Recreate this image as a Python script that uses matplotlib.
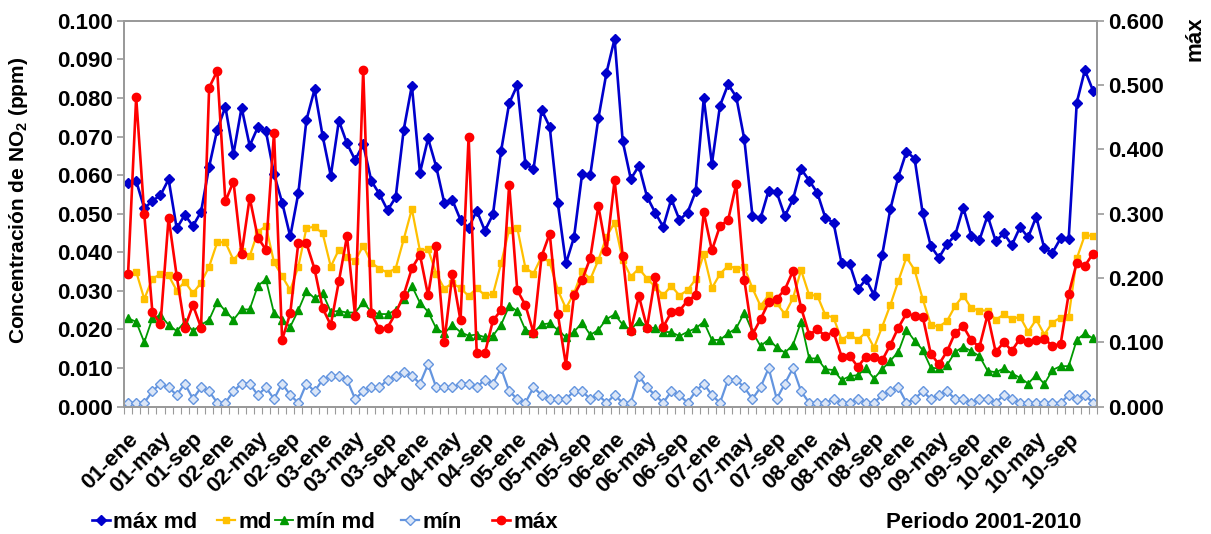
# ----------------------------------------------------------------------------------------------------------------------
# NO2 monthly concentration, 2001-2010 (max / mean / min series)
# ----------------------------------------------------------------------------------------------------------------------
import matplotlib
matplotlib.use("Agg")
import matplotlib.pyplot as plt
from matplotlib.ticker import FormatStrFormatter, FixedLocator
from matplotlib.transforms import ScaledTranslation
import numpy as np
# ----------------------------------------------------------------------------------------------------------------------

# Month labels shown on the x axis (every 4th month)
tick_labels = ["01-ene", "01-may", "01-sep", "02-ene", "02-may", "02-sep", "03-ene", "03-may", "03-sep",
               "04-ene", "04-may", "04-sep", "05-ene", "05-may", "05-sep", "06-ene", "06-may", "06-sep",
               "07-ene", "07-may", "07-sep", "08-ene", "08-may", "08-sep", "09-ene", "09-may", "09-sep",
               "10-ene", "10-may", "10-sep"]

# Monthly max of daily means (ppm)
max_md = [0.0579, 0.0585, 0.0514, 0.0533, 0.0548, 0.0589, 0.0462, 0.0497, 0.0468, 0.0505, 0.0622, 0.0718,
          0.0777, 0.0655, 0.0775, 0.0676, 0.0724, 0.0714, 0.0603, 0.0529, 0.0441, 0.0553, 0.0743, 0.0822,
          0.0701, 0.0598, 0.0741, 0.0682, 0.0639, 0.0680, 0.0585, 0.0551, 0.0509, 0.0542, 0.0718, 0.0832,
          0.0606, 0.0695, 0.0622, 0.0528, 0.0535, 0.0484, 0.0463, 0.0508, 0.0456, 0.0498, 0.0662, 0.0786,
          0.0833, 0.0629, 0.0615, 0.0769, 0.0725, 0.0527, 0.0371, 0.0439, 0.0604, 0.0600, 0.0747, 0.0865,
          0.0953, 0.0688, 0.0590, 0.0624, 0.0544, 0.0503, 0.0466, 0.0538, 0.0484, 0.0503, 0.0558, 0.0799,
          0.0629, 0.0780, 0.0835, 0.0803, 0.0693, 0.0495, 0.0488, 0.0560, 0.0555, 0.0494, 0.0537, 0.0616,
          0.0586, 0.0554, 0.0489, 0.0477, 0.0371, 0.0369, 0.0304, 0.0330, 0.0289, 0.0393, 0.0511, 0.0596,
          0.0661, 0.0643, 0.0501, 0.0416, 0.0386, 0.0421, 0.0444, 0.0516, 0.0442, 0.0432, 0.0495, 0.0429,
          0.0449, 0.0419, 0.0465, 0.0439, 0.0492, 0.0410, 0.0399, 0.0436, 0.0434, 0.0788, 0.0872, 0.0819]

# Monthly mean (ppm)
md = [0.0343, 0.0350, 0.0279, 0.0332, 0.0343, 0.0340, 0.0301, 0.0324, 0.0294, 0.0321, 0.0363, 0.0426,
      0.0426, 0.0380, 0.0404, 0.0390, 0.0453, 0.0468, 0.0374, 0.0338, 0.0302, 0.0363, 0.0463, 0.0466,
      0.0449, 0.0363, 0.0407, 0.0387, 0.0378, 0.0417, 0.0373, 0.0358, 0.0347, 0.0358, 0.0434, 0.0512,
      0.0404, 0.0408, 0.0345, 0.0306, 0.0320, 0.0307, 0.0287, 0.0307, 0.0289, 0.0291, 0.0371, 0.0459,
      0.0463, 0.0360, 0.0345, 0.0389, 0.0374, 0.0302, 0.0255, 0.0294, 0.0352, 0.0330, 0.0380, 0.0440,
      0.0477, 0.0380, 0.0337, 0.0358, 0.0332, 0.0311, 0.0289, 0.0313, 0.0288, 0.0302, 0.0330, 0.0395,
      0.0307, 0.0344, 0.0365, 0.0358, 0.0361, 0.0307, 0.0261, 0.0289, 0.0268, 0.0240, 0.0281, 0.0354,
      0.0289, 0.0288, 0.0237, 0.0231, 0.0173, 0.0187, 0.0173, 0.0193, 0.0153, 0.0207, 0.0263, 0.0326,
      0.0387, 0.0354, 0.0279, 0.0212, 0.0207, 0.0222, 0.0261, 0.0288, 0.0255, 0.0249, 0.0249, 0.0225,
      0.0239, 0.0227, 0.0233, 0.0194, 0.0226, 0.0187, 0.0218, 0.0231, 0.0233, 0.0384, 0.0445, 0.0442]

# Monthly min of daily means (ppm)
min_md = [0.0229, 0.0220, 0.0167, 0.0229, 0.0237, 0.0212, 0.0196, 0.0220, 0.0196, 0.0212, 0.0225, 0.0272,
          0.0248, 0.0225, 0.0252, 0.0252, 0.0313, 0.0330, 0.0242, 0.0225, 0.0207, 0.0250, 0.0300, 0.0281,
          0.0294, 0.0246, 0.0248, 0.0244, 0.0244, 0.0270, 0.0246, 0.0240, 0.0240, 0.0250, 0.0278, 0.0313,
          0.0269, 0.0246, 0.0203, 0.0190, 0.0212, 0.0193, 0.0184, 0.0187, 0.0180, 0.0184, 0.0212, 0.0261,
          0.0248, 0.0199, 0.0192, 0.0213, 0.0216, 0.0199, 0.0180, 0.0194, 0.0218, 0.0186, 0.0199, 0.0227,
          0.0239, 0.0213, 0.0199, 0.0223, 0.0207, 0.0203, 0.0194, 0.0193, 0.0183, 0.0194, 0.0203, 0.0220,
          0.0173, 0.0173, 0.0190, 0.0203, 0.0244, 0.0194, 0.0157, 0.0174, 0.0154, 0.0140, 0.0160, 0.0220,
          0.0125, 0.0125, 0.0097, 0.0095, 0.0069, 0.0079, 0.0082, 0.0099, 0.0073, 0.0097, 0.0119, 0.0142,
          0.0199, 0.0171, 0.0147, 0.0101, 0.0099, 0.0108, 0.0142, 0.0155, 0.0144, 0.0131, 0.0093, 0.0089,
          0.0099, 0.0086, 0.0075, 0.0060, 0.0082, 0.0059, 0.0095, 0.0105, 0.0105, 0.0173, 0.0190, 0.0177]

# Monthly absolute min (ppm)
min_abs = [0.001, 0.001, 0.001, 0.004, 0.006, 0.005, 0.003, 0.006, 0.002, 0.005, 0.004, 0.001,
           0.001, 0.004, 0.006, 0.006, 0.003, 0.005, 0.002, 0.006, 0.003, 0.001, 0.006, 0.004,
           0.007, 0.008, 0.008, 0.007, 0.002, 0.004, 0.005, 0.005, 0.007, 0.008, 0.009, 0.008,
           0.006, 0.011, 0.005, 0.005, 0.005, 0.006, 0.006, 0.005, 0.007, 0.006, 0.010, 0.004,
           0.002, 0.001, 0.005, 0.003, 0.002, 0.002, 0.002, 0.004, 0.004, 0.002, 0.003, 0.001,
           0.003, 0.001, 0.001, 0.008, 0.005, 0.003, 0.001, 0.004, 0.003, 0.001, 0.004, 0.006,
           0.003, 0.001, 0.007, 0.007, 0.005, 0.002, 0.005, 0.010, 0.002, 0.006, 0.010, 0.004,
           0.001, 0.001, 0.001, 0.002, 0.001, 0.001, 0.002, 0.001, 0.001, 0.003, 0.004, 0.005,
           0.001, 0.002, 0.004, 0.002, 0.003, 0.004, 0.002, 0.002, 0.001, 0.002, 0.002, 0.001,
           0.003, 0.002, 0.001, 0.001, 0.001, 0.001, 0.001, 0.001, 0.003, 0.002, 0.003, 0.001]

# Monthly absolute max (ppm) - secondary axis
max_abs = [0.206, 0.481, 0.299, 0.147, 0.128, 0.294, 0.203, 0.123, 0.158, 0.123, 0.496, 0.522,
           0.319, 0.350, 0.237, 0.325, 0.263, 0.244, 0.426, 0.104, 0.145, 0.255, 0.254, 0.214,
           0.153, 0.127, 0.195, 0.265, 0.141, 0.524, 0.145, 0.120, 0.123, 0.145, 0.174, 0.215,
           0.236, 0.173, 0.250, 0.101, 0.206, 0.134, 0.420, 0.083, 0.083, 0.134, 0.150, 0.345,
           0.181, 0.158, 0.115, 0.234, 0.269, 0.144, 0.065, 0.173, 0.197, 0.231, 0.312, 0.242,
           0.352, 0.235, 0.118, 0.172, 0.123, 0.201, 0.124, 0.147, 0.149, 0.165, 0.173, 0.302,
           0.243, 0.281, 0.290, 0.346, 0.197, 0.112, 0.136, 0.162, 0.168, 0.182, 0.211, 0.154,
           0.112, 0.120, 0.110, 0.116, 0.078, 0.079, 0.062, 0.078, 0.077, 0.072, 0.096, 0.123,
           0.145, 0.141, 0.140, 0.082, 0.066, 0.086, 0.115, 0.125, 0.103, 0.093, 0.143, 0.085,
           0.100, 0.087, 0.106, 0.101, 0.103, 0.105, 0.095, 0.097, 0.175, 0.224, 0.219, 0.238]

# ----------------------------------------------------------------------------------------------------------------------
AXIS_GRAY = "#9a9a9a"
FS = 16
LEGEND_Y = 0.022


def style_axis(ax):
    for side in ["left", "right", "top", "bottom"]:
        ax.spines[side].set_color(AXIS_GRAY)
        ax.spines[side].set_linewidth(1.3)
    ax.tick_params(axis="y", which="major", length=5, width=1.2, color=AXIS_GRAY, labelsize=FS, pad=3)


def add_legend(fig, handle, x0):
    # One entry per legend so each one can sit where Excel put it
    fig.legend(handles=[handle], loc="center left", bbox_to_anchor=(x0, LEGEND_Y), frameon=False,
               handlelength=0.8, handletextpad=0.15, borderpad=0, borderaxespad=0,
               prop={"size": FS, "weight": "bold"})


def plot_data():

    plt.rcParams["font.family"] = ["Liberation Sans", "DejaVu Sans"]
    plt.rcParams["font.weight"] = "bold"
    plt.rcParams["mathtext.fontset"] = "custom"
    plt.rcParams["mathtext.rm"] = "Liberation Sans:bold"
    plt.rcParams["mathtext.bf"] = "Liberation Sans:bold"

    fig = plt.figure(figsize=(12.11, 5.34), dpi=100)
    ax = fig.add_axes([0.1024, 0.2384, 0.8035, 0.7228])
    x = np.arange(len(max_md))

    # [1.] Primary axis series
    l1, = ax.plot(x, max_md, color="#0000CC", lw=1.9, marker="D", ms=5, mec="#0000CC", mfc="#0000CC",
                  label="máx md", zorder=5)
    l2, = ax.plot(x, md, color="#FFC000", lw=1.6, marker="s", ms=5, mec="#FFC000", mfc="#FFC000",
                  label="md", zorder=4)
    l3, = ax.plot(x, min_md, color="#009900", lw=1.3, marker="^", ms=6, mec="#009900", mfc="#009900",
                  label="mín md", zorder=3)
    l4, = ax.plot(x, min_abs, color="#6495DF", lw=1.6, marker="D", ms=5, mec="#6495DF", mfc="#dbe6f7",
                  label="mín", zorder=2)

    ax.set_xlim(-0.5, len(x) - 0.5)
    ax.set_ylim(0, 0.1)
    ax.set_yticks(np.arange(0, 0.1001, 0.01))
    ax.yaxis.set_major_formatter(FormatStrFormatter("%.3f"))
    style_axis(ax)

    # [2.] Category axis: label every 4th month, small tick on every month boundary
    ax.set_xticks(x[::4])
    ax.set_xticklabels(tick_labels, rotation=45, ha="right", va="center", rotation_mode="anchor",
                       fontsize=FS)
    ax.tick_params(axis="x", which="major", length=0, pad=21)
    shift = ScaledTranslation(5 / 72, 0, fig.dpi_scale_trans)
    for lab in ax.get_xticklabels():
        lab.set_transform(lab.get_transform() + shift)
    ax.xaxis.set_minor_locator(FixedLocator(np.arange(-0.5, len(x), 1)))
    ax.tick_params(axis="x", which="minor", length=5, width=0.8, color=AXIS_GRAY, direction="out")

    # [3.] Secondary axis for the absolute max
    ax2 = ax.twinx()
    l5, = ax2.plot(x, max_abs, color="#FF0000", lw=1.9, marker="o", ms=6, mec="#FF0000", mfc="#FF0000",
                   label="máx", zorder=6)
    ax2.set_ylim(0, 0.6)
    ax2.set_yticks(np.arange(0, 0.601, 0.1))
    ax2.yaxis.set_major_formatter(FormatStrFormatter("%.3f"))
    style_axis(ax2)

    # [4.] Titles / legend
    fig.text(0.015, 0.625, r"Concentración de NO$_\mathrm{2}$ (ppm)", rotation=90, ha="center", va="center",
             fontsize=15, fontweight="bold")
    fig.text(0.987, 0.97, "máx", rotation=90, ha="center", va="top", fontsize=FS, fontweight="bold")
    fig.text(0.893, LEGEND_Y, "Periodo 2001-2010", ha="right", va="center", fontsize=FS, fontweight="bold")

    for handle, px in zip([l1, l2, l3, l4, l5], [92, 217, 275, 401, 492]):
        add_legend(fig, handle, px / 1211)

    fig.savefig("out.png", dpi=100)


# ----------------------------------------------------------------------------------------------------------------------
if __name__ == "__main__":

    plot_data()
